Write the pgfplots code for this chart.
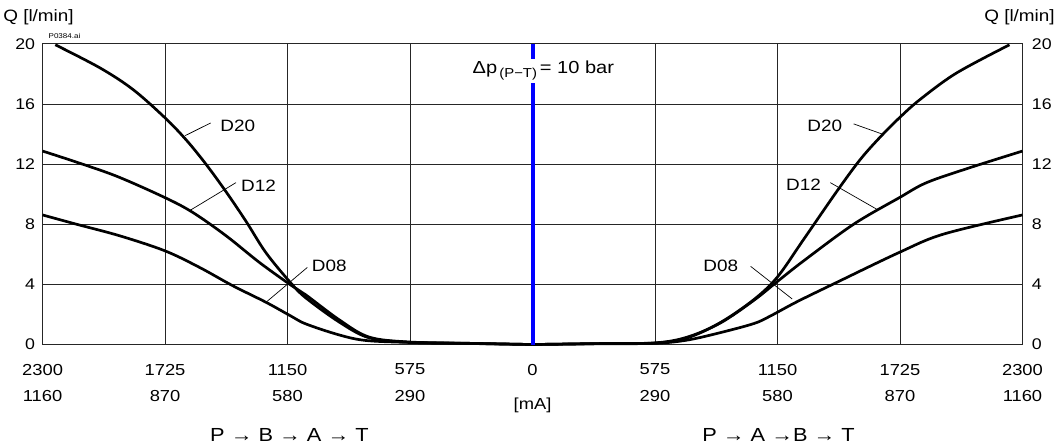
\documentclass[border=0pt]{standalone}
\usepackage{fontspec}
\setmainfont{Liberation Sans}[FakeStretch=1.15]
\usepackage{pgfplots}
\pgfplotsset{compat=1.18}

\begin{document}
\begin{tikzpicture}[curve/.style={black, line width=2.7pt, mark=none, smooth, tension=0.55}]
\begin{axis}[
  scale only axis,
  width=983.4pt, height=301.7pt,
  xmin=-2300, xmax=2300, ymin=0, ymax=20,
  xtick={-2300,-1725,-1150,-575,0,575,1150,1725,2300},
  xticklabels={{2300\\1160},{1725\\870},{1150\\580},{575\\290},{0\\[8pt]{[mA]}},{575\\290},{1150\\580},{1725\\870},{2300\\1160}},
  ytick={0,4,...,20},
  yticklabel pos=left,
  grid=major,
  grid style={line width=0.9pt, black!85},
  axis line style={line width=0.9pt, black!85},
  major tick length=0pt,
  xticklabel style={align=center, font=\fontsize{16}{26.5}\selectfont, yshift=-16pt},
  yticklabel style={font=\fontsize{15.5}{18}\selectfont, xshift=-4pt},
  /pgf/number format/assume math mode=true,
  clip=false,
]
% D20
\addplot[curve] coordinates {(-2240,19.94) (-2030,18.4) (-1875,16.96) (-1725,15.08) (-1625,13.6) (-1532,11.98) (-1438,10.15) (-1345,8.2) (-1251,6.1) (-1135,4.1) (-1064,3.1) (-908,1.5) (-768,0.45) (-581,0.15) (-300,0.08) (0,0)};
\addplot[curve] coordinates {(0,0) (300,0.06) (575,0.1) (728,0.45) (884,1.48) (1040,3.0) (1150,4.5) (1273,7.0) (1429,10.2) (1538,12.3) (1632,13.8) (1722,15.08) (1819,16.3) (1990,18.06) (2239,19.94)};
% D12
\addplot[curve] coordinates {(-2300,12.87) (-2155,12.2) (-1953,11.2) (-1725,9.77) (-1594,8.78) (-1438,7.23) (-1282,5.46) (-1135,3.96) (-1064,3.3) (-908,1.65) (-768,0.5) (-581,0.17) (-300,0.08) (0,0)};
\addplot[curve] coordinates {(0,0) (300,0.06) (575,0.11) (728,0.5) (884,1.45) (1040,2.95) (1150,4.2) (1273,5.57) (1507,8.0) (1722,9.77) (1850,10.77) (2052,11.76) (2300,12.87)};
% D08
\addplot[curve] coordinates {(-2300,8.62) (-2140,8.0) (-1937,7.23) (-1725,6.23) (-1563,5.13) (-1407,3.91) (-1251,2.81) (-1135,1.9) (-1064,1.37) (-908,0.64) (-783,0.27) (-581,0.14) (-300,0.07) (0,0)};
\addplot[curve] coordinates {(0,0) (300,0.05) (575,0.08) (728,0.3) (884,0.8) (1040,1.4) (1117,1.9) (1242,2.85) (1429,4.14) (1722,6.13) (1928,7.34) (2300,8.62)};
% blue line
\addplot[blue, line width=4pt, mark=none] coordinates {(0,0) (0,20)};
\node[fill=white, inner sep=2pt, font=\fontsize{17.5}{20}\selectfont] at (axis cs:51,18.2)
  {Δp\raisebox{-4pt}{\fontsize{13}{13}\selectfont\,(P−T)}\,= 10 bar};
% curve labels
\begin{scope}[font=\fontsize{16.5}{18}\selectfont]
\node at (axis cs:-1384,14.56) {D20};
\node at (axis cs:-1286,10.59) {D12};
\node at (axis cs:-954,5.22) {D08};
\node at (axis cs:1372,14.56) {D20};
\node at (axis cs:1272,10.65) {D12};
\node at (axis cs:884,5.22) {D08};
\end{scope}
\draw[line width=0.7pt] (axis cs:-1630,13.9) -- (axis cs:-1511,14.74);
\draw[line width=0.7pt] (axis cs:-1607,8.93) -- (axis cs:-1392,10.77);
\draw[line width=0.7pt] (axis cs:-1251,2.81) -- (axis cs:-1057,5.13);
\draw[line width=0.7pt] (axis cs:1507,14.68) -- (axis cs:1640,14.01);
\draw[line width=0.7pt] (axis cs:1398,10.77) -- (axis cs:1616,9.0);
\draw[line width=0.7pt] (axis cs:1024,5.2) -- (axis cs:1219,3.03);
% texts around
\node[font=\fontsize{16.5}{18}\selectfont] at (axis cs:-2319,21.79) {Q [l/min]};
\node[font=\fontsize{16.5}{18}\selectfont] at (axis cs:2286,21.79) {Q [l/min]};
\node[font=\fontsize{7}{8}\selectfont] at (axis cs:-2197,20.53) {P0384.ai};
\node[font=\fontsize{19}{20}\selectfont] at (axis cs:-1141,-5.99) {P → B → A → T};
\node[font=\fontsize{19}{20}\selectfont] at (axis cs:1155,-5.99) {P → A →B → T};
\path (axis cs:-2482,22.92) rectangle (axis cs:2464,-6.65);
\end{axis}
\begin{axis}[
  scale only axis,
  width=983.4pt, height=301.7pt,
  xmin=-2300, xmax=2300, ymin=0, ymax=20,
  hide x axis,
  axis y line*=right,
  axis line style={draw=none},
  ytick={0,4,...,20},
  major tick length=0pt,
  yticklabel style={font=\fontsize{15.5}{18}\selectfont, xshift=6pt},
  /pgf/number format/assume math mode=true,
]
\addplot[draw=none] coordinates {(0,0)};
\end{axis}
\end{tikzpicture}
\end{document}
